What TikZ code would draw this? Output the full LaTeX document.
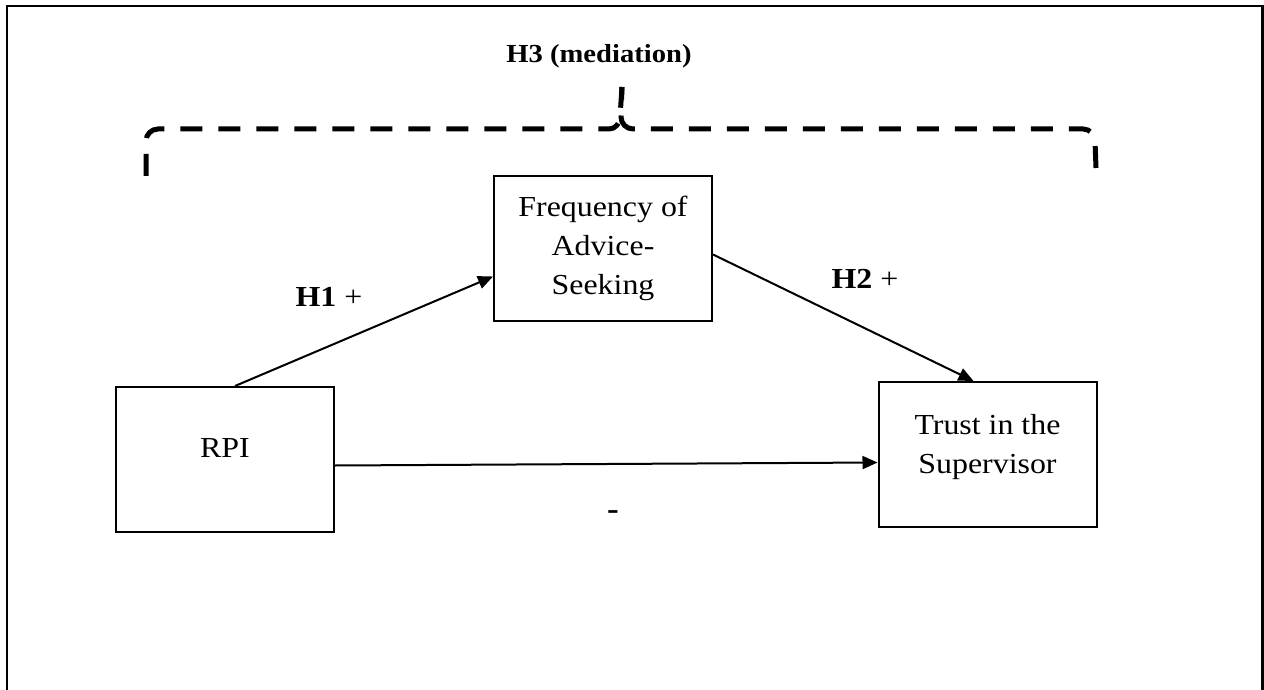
\documentclass[tikz,border=0pt]{standalone}
\usepackage{fontspec}
\setmainfont{Liberation Serif}[FakeStretch=1.1]
\usetikzlibrary{arrows.meta,positioning,calc}

\begin{document}
\begin{tikzpicture}[x=0.5pt,y=-0.5pt,
  font=\fontsize{14.5}{19.5}\selectfont,
  varbox/.style={draw,line width=1pt,minimum width=109pt,minimum height=72.5pt,align=center,inner sep=2pt},
  raised/.style={text depth=11pt},
  arr/.style={line width=1pt,-{Triangle[length=7.5pt,width=6.5pt]}},
  lab/.style={anchor=base,inner sep=0pt},
  brace/.style={line width=2.5pt,dash pattern=on 11pt off 8pt,line cap=butt}]
  \useasboundingbox (0,0) rectangle (1264,690);
  % frame, open at the bottom
  \draw[line width=1.2pt] (7,690) -- (7,6) -- (1262.5,6) -- (1262.5,690);

  % the three variables
  \node[varbox,raised] (rpi) at (225,459.5) {RPI};
  \node[varbox] (freq) at (603,248.5) {Frequency of\\Advice-\\Seeking};
  \node[varbox,raised] (trust) at (987.5,454.5) {Trust in the\\Supervisor};

  \draw[arr] ([xshift=5pt]rpi.north) -- ([yshift=-14pt]freq.west);
  \draw[arr] ([yshift=-3pt]freq.east) -- ([xshift=-7pt]trust.north);
  \draw[arr] ([yshift=-3pt]rpi.east) -- ([yshift=-4pt]trust.west);

  \node[lab] (h1) at (329,306) {\textbf{H1} +};
  \node[lab] (h2) at (865,288) {\textbf{H2} +};
  \node[lab,font=\fontsize{16}{18}\selectfont] (neg) at (613,519) {\textbf{-}};

  % mediation brace over the top, each half dashed from its outer end
  \node[lab,font=\fontsize{13}{15}\selectfont\bfseries] (h3) at (599,63) {H3 (mediation)};
  \draw[brace] (146,176) -- (146,141) to[out=90,in=180] (158,129) -- (609,129)
    to[out=0,in=-90] (620,117) -- (622,87);
  \draw[brace] (1096,168) -- (1095,141) to[out=90,in=0] (1083,129) -- (633,129)
    to[out=180,in=-90] (621,117) -- (622,87);
\end{tikzpicture}
\end{document}
